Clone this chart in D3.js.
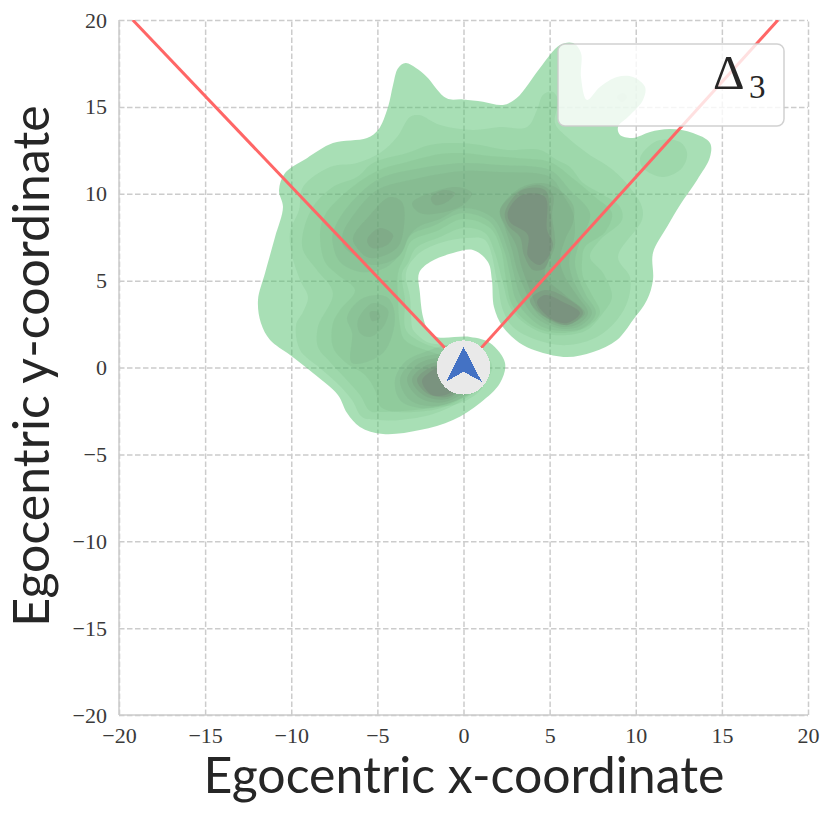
<!DOCTYPE html>
<html lang="en">
<head>
<meta charset="UTF-8">
<title>Egocentric density</title>
<script src="https://d3js.org/d3.v7.min.js"></script>
<style>
    body { margin: 0; background: white; }
    .tick text { font-family: 'Liberation Serif', serif; font-size: 22px; fill: #3a3a3a; }
    .axis-title { font-family: Lato, sans-serif; font-size: 50px; font-weight: 400; fill: #262626; text-anchor: middle; }
    .grid line { stroke: #ccc; stroke-width: 1.5; stroke-dasharray: 5.5 2.5; }
    .grid path { display: none; }
</style>
</head>
<body>
<script>

    const width = 831;
    const height = 814;

    const ticks = [-20, -15, -10, -5, 0, 5, 10, 15, 20];

    // field of view edges, from the agent out to the top of the plot
    const leftEdge = [[0, 0], [-19.2, 20]];
    const rightEdge = [[0, 0], [18.26, 20]];

    const agentRadius = 1.56;
    const agentArrow = [[0, 1.2], [-1.02, -0.82], [0, -0.24], [1.06, -0.82]];

    // how each band looks over white, lightest first
    const bandColors = ["#a8dfb5", "#9ed8ac", "#97d2a5", "#91cc9f", "#8cc59a", "#88be95", "#84b690", "#81ad8b", "#7ea286", "#7c9682"];

    // contour outlines, in egocentric units, lightest level first
    const level0 = [[-3.36,17.52],[-2.76,17.24],[-2.14,16.74],[-0.98,15.49],[-0.03,15.43],[1.13,15.3],[2.29,15.11],[3.09,15.51],[4.44,17.24],[5.6,18.56],[6.36,18.67],[6.82,18.1],[6.82,16.72],[7.17,15.4],[7.92,16.14],[8.91,16.72],[9.84,16.72],[10.54,16.14],[10.42,15.4],[9.67,14.53],[8.97,13.84],[9.09,13.38],[9.84,13.21],[10.83,13.55],[11.99,13.72],[13.32,13.49],[14.31,12.92],[14.31,12.11],[13.56,10.79],[12.57,9.35],[11.81,8.08],[11,6.59],[11,5.04],[10.65,3.88],[9.84,2.73],[8.91,1.58],[7.52,0.89],[6.01,0.6],[4.44,0.89],[3.45,1.29],[2.29,2.33],[1.77,3.48],[1.65,5.04],[1.42,6.07],[0.55,6.76],[-0.61,6.59],[-1.94,6.07],[-2.58,5.44],[-2.53,4.29],[-2.35,2.91],[-2.06,2.16],[-1.54,1.76],[0.38,1.76],[1.54,1.41],[2.41,0.26],[2.12,-0.89],[0.96,-2.04],[-0.61,-3.02],[-2.53,-3.6],[-4.67,-3.83],[-6.01,-3.42],[-6.76,-2.62],[-7.29,-1.58],[-8.74,-0.32],[-10.07,0.72],[-11.23,1.58],[-11.76,2.56],[-11.93,3.88],[-11.52,5.44],[-10.94,7.51],[-10.48,9.24],[-10.71,10.21],[-10.36,11.19],[-9.09,12.05],[-7.58,12.92],[-5.6,13.21],[-4.96,13.67],[-4.38,15],[-4.09,16.26],[-3.8,17.23]];

    const level1 = [[-2.58,14.53],[-1.36,13.95],[0.55,13.67],[2.12,13.84],[3.69,13.84],[4.27,14.83],[4.62,15.7],[5.14,15.88],[5.49,15.4],[5.31,14.07],[6.01,13.26],[7.17,12.34],[8.68,11.36],[9.78,10.2],[10.36,9.24],[10.36,8.49],[8.97,6.36],[9.67,5.2],[9.55,3.88],[8.91,2.73],[7.75,1.76],[6.01,1.29],[4.27,1.58],[2.87,2.33],[2.29,3.31],[1.94,5.04],[1.25,7.34],[0.2,7.45],[-1.36,7.16],[-2.7,6.47],[-3.34,5.44],[-3.11,4.06],[-2.99,2.33],[-2.93,2.16],[-2.12,1.47],[-1.07,1.29],[0.96,1.01],[1.65,0.14],[1.36,-0.72],[-0.03,-1.87],[-1.77,-2.68],[-3.69,-3.02],[-4.96,-3.02],[-5.89,-2.85],[-6.47,-1.87],[-7.17,-1.06],[-8.33,-0.03],[-9.49,1.01],[-9.72,2.45],[-9.32,3.19],[-9.03,4.06],[-9.49,5.04],[-9.96,6.47],[-10.07,7.8],[-9.55,9.06],[-9.32,10.39],[-7.75,11.54],[-6.18,11.77],[-4.85,12.34],[-3.86,13.26],[-3.11,14.42]];
    const level1Right = [[11.41,13.09],[12.57,12.98],[12.98,12.34],[12.69,11.48],[11.58,10.96],[10.42,11.48],[10.25,12.05],[10.71,12.69]];
    const level1Top = [[8.91,15.57],[9.26,15.8],[9.49,15.57],[9.2,15.28]];

    const level2 = [[-9.32,7.74],[-8.74,9.24],[-7.58,10.39],[-6.18,10.96],[-5.25,11.77],[-3.28,12.34],[-1.95,12.81],[-0.38,12.92],[0.96,12.81],[2.53,12.52],[4.44,12.52],[5.43,11.94],[6.18,11.54],[6.94,10.62],[7.92,10.04],[9.09,9.24],[9.2,8.49],[7.92,7.34],[7.34,6.36],[8.1,5.44],[8.62,4.06],[8.1,3.14],[7.17,2.16],[6.01,1.87],[4.62,1.99],[3.45,2.62],[2.7,3.48],[2.29,4.86],[1.83,6.59],[1.25,7.74],[-0.03,8.03],[-1.36,7.51],[-2.76,6.88],[-3.22,6.01],[-3.57,5.44],[-3.4,3.88],[-3.34,2.16],[-2.35,1.41],[-1.07,1.01],[0.96,0.43],[1.36,-0.26],[1.13,-1.12],[-0.03,-1.99],[-1.77,-2.33],[-4.85,-2.56],[-5.43,-2.5],[-6.01,-1.58],[-6.88,-0.6],[-7.75,0.32],[-8.45,1.18],[-8.45,2.33],[-7.58,4.29],[-8.51,5.61],[-9.32,6.76]];

    const level3 = [[-8.33,7.74],[-8.04,8.78],[-6.88,10.04],[-5.02,11.31],[-3.28,11.83],[-1.36,12.29],[-0.03,12.34],[1.54,12.17],[3.28,12.05],[5.02,11.83],[6.47,10.79],[7.64,9.81],[8.62,8.89],[8.22,7.8],[7.05,6.93],[6.88,6.07],[6.94,5.21],[7.46,4.17],[7.92,3.14],[7.05,2.27],[5.89,1.99],[4.73,2.1],[3.69,2.62],[2.82,3.6],[2.47,5.04],[2.18,6.76],[1.54,8.03],[-0.03,8.55],[-1.54,7.86],[-3.02,7.28],[-3.45,6.3],[-3.8,5.44],[-3.8,3.88],[-3.69,2.45],[-3.4,1.58],[-1.36,0.72],[0.84,-0.03],[1.13,-1.01],[-0.03,-1.76],[-1.77,-2.45],[-4.73,-2.33],[-5.14,-1.29],[-5.72,-0.43],[-6.88,0.32],[-7.58,1.18],[-7.58,2.56],[-7.17,3.31],[-6.3,4.46],[-7.29,5.32],[-8.04,6.07]];

    const level4 = [[-7.58,7.74],[-7.58,7.05],[-7.17,6.07],[-6.01,5.5],[-4.56,5.73],[-3.57,6.65],[-3.05,7.63],[-1.77,8.14],[-0.03,8.89],[1.54,8.37],[2.35,6.76],[2.7,5.32],[3.05,3.88],[3.86,2.85],[4.73,2.27],[5.89,2.1],[6.94,2.27],[7.69,3.14],[7.11,4.17],[6.65,5.21],[6.47,6.07],[6.65,6.93],[7.05,7.8],[7.34,8.89],[6.18,10.21],[5.02,11.36],[2.12,11.65],[-0.03,11.77],[-3.11,11.36],[-5.02,10.79],[-6.88,9.06]];
    const level4Left = [[-6.76,2.91],[-5.83,4],[-4.44,4.06],[-3.98,2.91],[-4.67,0.83],[-6.47,0.26],[-6.47,1.99]];
    const level4Low = [[-3.98,-0.72],[-3.4,0.32],[-2.24,0.89],[-0.78,1.29],[0.96,0.89],[1.42,-0.26],[0.67,-1.29],[-0.78,-2.04],[-2.53,-2.33],[-3.69,-1.87]];

    const level5 = [[-7,7.74],[-7,7.05],[-6.3,6.42],[-5.25,5.9],[-3.74,6.42],[-3.16,7.57],[-2.53,8.14],[-1.36,8.55],[-0.03,9.18],[1.71,8.6],[2.58,6.76],[2.87,5.61],[3.28,4.17],[4.04,3.02],[4.91,2.45],[5.89,2.22],[6.76,2.39],[7.46,3.14],[6.88,4.06],[6.3,5.21],[6.13,6.07],[6.3,6.93],[6.47,7.8],[6.36,8.89],[5.78,9.93],[5.02,10.96],[2.12,11.25],[-0.03,11.31],[-3.11,10.79],[-5.02,10.21],[-6.3,8.89]];
    const level5Left = [[-6.13,2.73],[-5.25,3.71],[-4.38,3.31],[-4.67,2.33],[-5.43,1.76],[-6.01,1.99]];
    const level5Low = [[-3.69,-0.72],[-2.99,0.32],[-1.83,0.72],[-0.2,0.72],[0.84,-0.43],[0.09,-1.58],[-1.65,-2.22],[-3.11,-1.87]];

    const level6Right = [[2.12,9.06],[3.28,10.33],[4.44,10.62],[5.31,10.39],[6.36,9.35],[6.36,8.37],[5.89,7.34],[5.6,6.19],[5.89,5.21],[6.65,4.06],[7.23,3.14],[6.65,2.5],[5.89,2.33],[5.02,2.56],[4.21,3.19],[3.57,4.46],[3.11,5.61],[2.82,6.76],[2.41,8.03]];
    const level6Left = [[-6.42,7.45],[-5.43,8.78],[-4.27,9.81],[-3.57,9.52],[-3.45,8.2],[-3.86,6.88],[-5.43,6.3],[-6.18,6.88]];
    const level6Top = [[-2.99,9.46],[-1.77,10.1],[-0.38,10.39],[0.49,10.04],[-0.03,9.35],[-1.36,8.89],[-2.53,8.89]];
    const level6Spot = [[-5.43,3.19],[-4.96,3.19],[-4.85,2.85],[-5.31,2.68]];
    const level6Low = [[-3.28,-0.72],[-2.64,0.2],[-1.36,0.55],[0.09,0.14],[0.38,-1.01],[-1.07,-1.99],[-2.53,-1.76]];

    const level7Right = [[2.12,9.06],[3.28,10.21],[4.44,10.5],[5.2,9.93],[5.14,8.78],[5.31,7.05],[4.73,5.32],[5.89,4.17],[7.05,3.14],[6.47,2.62],[5.89,2.45],[5.2,2.62],[4.44,3.19],[3.86,4.46],[3.34,5.9],[3.05,7.05],[2.41,8.2]];
    const level7Left = [[-5.6,7.34],[-4.85,8.03],[-4.09,7.63],[-4.44,7.05],[-5.31,6.88]];
    const level7Top = [[-1.89,9.75],[-1.19,10.21],[-0.49,10.04],[-0.96,9.52],[-1.65,9.35]];
    const level7Low = [[-2.99,-0.72],[-2.35,0.03],[-1.07,0.32],[0.09,-0.43],[-0.78,-1.76],[-2.24,-1.64]];

    const level8Right = [[2.41,8.95],[3.4,10.21],[4.73,10.21],[5.02,9.06],[5.08,7.05],[4.73,5.73],[4.04,5.61],[3.51,6.47],[3.28,7.51],[2.58,8.2]];
    const level8Lobe = [[3.86,3.88],[4.73,4.46],[6.18,3.88],[6.94,3.14],[6.07,2.45],[5.2,2.68],[4.33,3.19]];
    const level8Low = [[-2.7,-0.72],[-2.18,-0.14],[-1.07,0.14],[0.09,-0.6],[-0.78,-1.64],[-2.06,-1.53]];

    const level9Right = [[2.58,8.95],[3.4,9.93],[4.73,9.81],[4.85,7.91],[5.2,7.05],[4.44,5.9],[3.74,6.42],[3.74,7.63],[2.7,8.37]];
    const level9Lobe = [[4.27,3.77],[4.73,4.17],[5.78,3.77],[6.76,3.14],[6.01,2.56],[5.02,2.85]];
    const level9Low = [[-2.41,-0.78],[-1.95,-0.26],[-1.25,0.03],[-0.2,-0.72],[-0.78,-1.47],[-1.83,-1.58]];

    const levels = [
        [level0],
        [level1, level1Right, level1Top],
        [level2],
        [level3],
        [level4, level4Left, level4Low],
        [level5, level5Left, level5Low],
        [level6Right, level6Left, level6Top, level6Spot, level6Low],
        [level7Right, level7Left, level7Top, level7Low],
        [level8Right, level8Lobe, level8Low],
        [level9Right, level9Lobe, level9Low]
    ];

    const x = d3.scaleLinear().domain([-20, 20]).range([119, 808]);
    const y = d3.scaleLinear().domain([-20, 20]).range([715, 20]);

    const svg = d3.select("body").append("svg").attr("width", width).attr("height", height);

    svg.append("clipPath").attr("id", "plot-area")
        .append("rect").attr("x", 119).attr("y", 20).attr("width", 689).attr("height", 695);

    // grid and tick labels
    svg.append("g").attr("class", "grid")
        .attr("transform", "translate(0,715)")
        .call(d3.axisBottom(x).tickValues(ticks).tickSize(-695).tickPadding(12).tickFormat(d3.format("d")));
    svg.append("g").attr("class", "grid")
        .attr("transform", "translate(119,0)")
        .call(d3.axisLeft(y).tickValues(ticks).tickSize(-689).tickPadding(12).tickFormat(d3.format("d")));

    // spines, only left and bottom are solid
    svg.append("line").attr("x1", 119).attr("x2", 119).attr("y1", 20).attr("y2", 715).attr("stroke", "#ccc").attr("stroke-width", 1.5);
    svg.append("line").attr("x1", 119).attr("x2", 808).attr("y1", 715).attr("y2", 715).attr("stroke", "#ccc").attr("stroke-width", 1.5);

    const contour = d3.line()
        .x(d => x(d[0]))
        .y(d => y(d[1]))
        .curve(d3.curveCatmullRomClosed.alpha(0.5));

    // bands are stacked, so work out the translucent paint that lands on each band colour
    const paintOver = (target, below, a) => {
        const t = d3.rgb(target), b = d3.rgb(below);
        return d3.rgb((t.r - b.r * (1 - a)) / a, (t.g - b.g * (1 - a)) / a, (t.b - b.b * (1 - a)) / a).clamp().formatRgb();
    };

    levels.forEach((rings, i) => {
        const a = i === 0 ? 0.5 : 0.13;
        svg.append("g").selectAll("path")
            .data(rings)
            .enter().append("path")
            .attr("d", contour)
            .attr("fill", paintOver(bandColors[i], i === 0 ? "#fff" : bandColors[i - 1], a))
            .attr("fill-opacity", a);
    });

    const edge = d3.line().x(d => x(d[0])).y(d => y(d[1]));

    svg.append("g").attr("clip-path", "url(#plot-area)")
        .selectAll("path")
        .data([leftEdge, rightEdge])
        .enter().append("path")
        .attr("d", edge)
        .attr("fill", "none")
        .attr("stroke", "#ff6666")
        .attr("stroke-width", 3);

    // agent marker, aliased like the bitmap in the original
    svg.append("ellipse")
        .attr("cx", x(0)).attr("cy", y(0))
        .attr("rx", x(agentRadius) - x(0)).attr("ry", y(0) - y(agentRadius))
        .attr("fill", "#e9e9e9")
        .attr("shape-rendering", "crispEdges");
    svg.append("path")
        .attr("d", d3.line().x(d => x(d[0])).y(d => y(d[1])).curve(d3.curveLinearClosed)(agentArrow))
        .attr("fill", "#4472c4")
        .attr("shape-rendering", "crispEdges");

    // legend
    svg.append("rect")
        .attr("x", 558).attr("y", 44).attr("width", 226).attr("height", 82).attr("rx", 7)
        .attr("fill", "white").attr("fill-opacity", 0.8)
        .attr("stroke", "#ccc").attr("stroke-opacity", 0.9).attr("stroke-width", 1.5);

    svg.append("text")
        .attr("x", 713).attr("y", 89)
        .attr("font-family", "'Liberation Serif', serif").attr("font-size", 49).attr("fill", "#262626")
        .text("Δ");
    svg.append("text")
        .attr("x", 749).attr("y", 98)
        .attr("font-family", "'Liberation Serif', serif").attr("font-size", 33).attr("fill", "#262626")
        .text("3");

    // axis titles
    svg.append("text").attr("class", "axis-title")
        .attr("x", 464).attr("y", 793)
        .text("Egocentric x-coordinate");
    svg.append("text").attr("class", "axis-title")
        .attr("transform", "translate(49,366) rotate(-90)")
        .text("Egocentric y-coordinate");

</script>
</body>
</html>
